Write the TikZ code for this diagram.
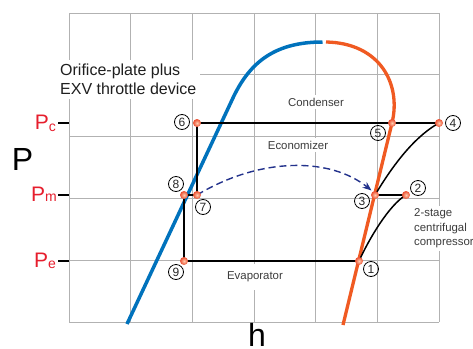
\documentclass[tikz,border=0pt]{standalone}
\usepackage{fontspec}
\setmainfont{Liberation Sans}
\usetikzlibrary{arrows.meta}
\definecolor{cblue}{RGB}{0,114,188}
\definecolor{corange}{RGB}{240,90,34}
\definecolor{cred}{RGB}{230,30,45}
\definecolor{cnavy}{RGB}{35,50,140}
\definecolor{cgrid}{RGB}{178,178,178}
\definecolor{cdotin}{RGB}{255,205,175}
\definecolor{cdotout}{RGB}{236,76,46}
\definecolor{ctext}{RGB}{60,60,60}
\begin{document}
\begin{tikzpicture}[x=1pt,y=-1pt,
  gridl/.style={cgrid,line width=0.9pt},
  cyc/.style={black,line width=1.5pt},
  dot/.style={circle,inner sep=0pt,minimum size=8pt,inner color=cdotin,outer color=cdotout},
  numc/.style={circle,draw,line width=0.8pt,inner sep=0pt,minimum size=15pt,text=black!85,font=\fontsize{12}{12}\selectfont},
  lbl/.style={fill=white,inner sep=3pt,text=ctext,font=\fontsize{11.4}{14.5}\selectfont},
  plab/.style={text=cred,font=\fontsize{21}{21}\selectfont,inner sep=0pt,anchor=base east},
  tick/.style={black,line width=1.2pt}]
\useasboundingbox (0,0) rectangle (473,348);

% grid
\foreach \x in {69,130.7,192.3,254,315.7,377.3,439}
  \draw[gridl] (\x,13) -- (\x,322);
\foreach \y in {13,74.8,136.6,198.4,260.2,322}
  \draw[gridl] (69,\y) -- (439,\y);

% labels with white background
\node[lbl,align=left,anchor=north west,inner sep=4pt,text=black!88,font=\fontsize{16}{19}\selectfont] (orif) at (56,60) {Orifice-plate plus\\EXV throttle device};
\node[lbl] (cond) at (316,102) {Condenser};
\node[lbl] (econ) at (298,145) {Economizer};
\node[lbl,inner ysep=8pt] (evap) at (255,277) {Evaporator};
\node[lbl,align=left,anchor=north west] (comp) at (411,205.5) {2-stage\\centrifugal\\compressor};

% axis labels
\node[font=\fontsize{32}{32}\selectfont,anchor=base,inner sep=0pt] (P) at (22.5,170) {P};
\node[font=\fontsize{32}{32}\selectfont,anchor=base,inner sep=0pt] (h) at (257,346.5) {h};
\node[plab] (pc) at (56,129.5) {P\raisebox{-1.5pt}{\fontsize{14}{14}\selectfont c}};
\node[plab] (pm) at (57,201.5) {P\fontsize{14}{14}\selectfont m};
\node[plab] (pe) at (56,267.5) {P\raisebox{-1pt}{\fontsize{14}{14}\selectfont e}};
\draw[tick] (58,123) -- (69,123);
\draw[tick] (58,195) -- (69,195);
\draw[tick] (58,261) -- (69,261);

% saturation curves
\draw[cblue,line width=3.5pt] (127,324) -- (232,100) .. controls (248,65) and (272,42) .. (322.5,42);
\draw[corange,line width=3.3pt] (326,42) .. controls (380,43) and (401.5,84) .. (392,123) -- (343,325);

% state points
\coordinate (c1) at (359,261);
\coordinate (c2) at (406,195);
\coordinate (c3) at (375,195);
\coordinate (c4) at (439,123);
\coordinate (c5) at (392,123);
\coordinate (c6) at (197,123);
\coordinate (c7) at (197,195);
\coordinate (c8) at (184,195);
\coordinate (c9) at (184,261);

% cycle
\draw[cyc] (c6) -- (c5) -- (c4);
\draw[cyc] (c6) -- (c7);
\draw[cyc] (c8) -- (c7);
\draw[cyc] (c8) -- (c9) -- (c1);
\draw[cyc] (c1) .. controls (369,239) and (389,205) .. (c2);
\draw[cyc] (c3) -- (c2);
\draw[cyc] (c3) .. controls (390,170) and (412,138) .. (c4);

% economizer injection
\draw[cnavy,line width=1.4pt,dash pattern=on 7pt off 4pt,-{Stealth[length=9pt,width=7pt]}]
  (c7) .. controls (260,157) and (330,157) .. (371.5,190.5);

% dots
\foreach \i in {1,...,9} \node[dot] (d\i) at (c\i) {};

% numbers
\node[numc] (n1) at (371,269) {1};
\node[numc] (n2) at (418,188) {2};
\node[numc] (n3) at (362,201) {3};
\node[numc] (n4) at (453,123) {4};
\node[numc] (n5) at (378,133) {5};
\node[numc] (n6) at (182,122) {6};
\node[numc] (n7) at (203,207) {7};
\node[numc] (n8) at (176,184) {8};
\node[numc] (n9) at (176,272) {9};
\end{tikzpicture}
\end{document}
